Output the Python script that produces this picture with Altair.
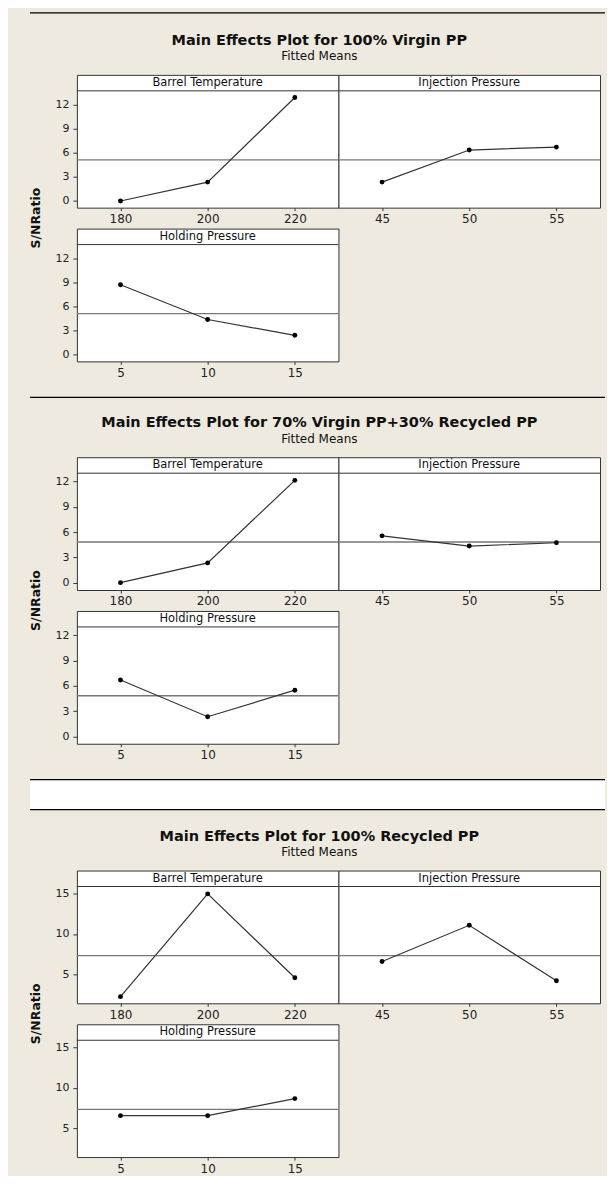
import altair as alt
import pandas as pd

# ---------------- data ----------------
section_titles = [
    "Main Effects Plot for 100% Virgin PP",
    "Main Effects Plot for 70% Virgin PP+30% Recycled PP",
    "Main Effects Plot for 100% Recycled PP",
]
subtitle_text = "Fitted Means"
y_label = "S/NRatio"

factor_names = ["Barrel Temperature", "Injection Pressure", "Holding Pressure"]
barrel_levels = ["180", "200", "220"]
injection_levels = ["45", "50", "55"]
holding_levels = ["5", "10", "15"]

# S/N ratio means per factor level
virgin_barrel = [0.0, 2.36, 12.94]
virgin_injection = [2.36, 6.37, 6.74]
virgin_holding = [8.75, 4.40, 2.43]

blend_barrel = [0.0, 2.35, 12.15]
blend_injection = [5.56, 4.35, 4.74]
blend_holding = [6.70, 2.34, 5.49]

recycled_barrel = [2.26, 14.95, 4.60]
recycled_injection = [6.60, 11.07, 4.23]
recycled_holding = [6.55, 6.55, 8.66]

grand_means = [5.13, 4.83, 7.32]

# axis limits (plot region) and tick values for each section
y_limits = [[-0.83, 13.77], [-0.87, 13.0], [1.44, 15.86]]
y_tick_values = [[0, 3, 6, 9, 12], [0, 3, 6, 9, 12], [5, 10, 15]]

# ---------------- styling ----------------
FONT = "DejaVu Sans"
BEIGE = "#EEEAE0"
PANEL_W = 262
PLOT_H = 117
HEADER_H = 16
ROW_GAP = 21
STACK_H = 2 * (PLOT_H + HEADER_H) + ROW_GAP
FULL_W = 576
GAP_BAND = 30       # white gap between the boxes
GAP_BOTTOM = 2      # beige space below the white gap


def make_panel(name, levels, values, mean, limits, ticks, left_axis):
    lo, hi = limits
    top = hi + HEADER_H * (hi - lo) / PLOT_H
    yscale = alt.Scale(domain=[lo, top], nice=False, zero=False)

    if left_axis:
        yaxis = alt.Axis(
            values=ticks, grid=False, domain=False, tickSize=4, tickColor="#333",
            labelColor="#222", labelFont=FONT, labelFontSize=11, labelPadding=4,
            title=None,
        )
    else:
        yaxis = None
    yenc = alt.Y("sn:Q", scale=yscale, axis=yaxis)

    xenc = alt.X(
        "level:O",
        sort=levels,
        scale=alt.Scale(type="point", padding=0.5, domain=levels),
        axis=alt.Axis(
            labelAngle=0, tickSize=3, tickColor="#333", domain=False, grid=False,
            title=None, labelFont=FONT, labelFontSize=12, labelColor="#222", labelPadding=3,
        ),
    )

    df = pd.DataFrame({"level": levels, "sn": values})

    line = alt.Chart(df).mark_line(color="#333", strokeWidth=1.2).encode(x=xenc, y=yenc)
    pts = alt.Chart(df).mark_circle(size=24, color="black", opacity=1).encode(x=xenc, y=yenc)
    mean_rule = alt.Chart(pd.DataFrame({"sn": [mean]})).mark_rule(
        color="#777", strokeWidth=1.3
    ).encode(y=yenc)
    header_rule = alt.Chart(pd.DataFrame({"sn": [hi]})).mark_rule(
        color="#333", strokeWidth=1
    ).encode(y=yenc)
    header_text = alt.Chart(pd.DataFrame({"sn": [(hi + top) / 2], "name": [name]})).mark_text(
        font=FONT, fontSize=11.5, color="#111", baseline="middle", align="center"
    ).encode(y=yenc, text="name:N")

    return alt.layer(mean_rule, header_rule, header_text, line, pts).properties(
        width=PANEL_W, height=PLOT_H + HEADER_H
    )


def make_section(idx, barrel, injection, holding):
    lim = y_limits[idx]
    tk = y_tick_values[idx]
    m = grand_means[idx]
    bt = make_panel(factor_names[0], barrel_levels, barrel, m, lim, tk, True)
    ip = make_panel(factor_names[1], injection_levels, injection, m, lim, tk, False)
    hp = make_panel(factor_names[2], holding_levels, holding, m, lim, tk, True)
    grid = alt.concat(
        bt, ip, hp,
        columns=2,
        spacing={"row": ROW_GAP, "column": 0},
        bounds="flush",
    )
    ylab = alt.Chart(pd.DataFrame({"t": [y_label]})).mark_text(
        angle=270, font=FONT, fontSize=12.5, fontWeight="bold", color="#111",
        align="center", baseline="middle",
    ).encode(text="t:N").properties(
        width=12, height=STACK_H,
        view=alt.ViewBackground(fill="transparent", stroke="transparent"),
    )
    return alt.hconcat(
        ylab, grid,
        spacing=11,
        title=alt.TitleParams(
            text=section_titles[idx], subtitle=subtitle_text, anchor="middle", dx=4,
            font=FONT, fontSize=14.5, fontWeight="bold", color="#111",
            subtitleFont=FONT, subtitleFontSize=12, subtitleColor="#111",
            subtitlePadding=3, offset=11,
        ),
    )


def border_line(height, at_top):
    # a transparent strip carrying one black box-edge line
    edge = height if at_top else 0
    return alt.Chart(pd.DataFrame({"edge": [edge]})).mark_rule(color="black", strokeWidth=1.2).encode(
        y=alt.Y("edge:Q", axis=None, scale=alt.Scale(domain=[0, height], nice=False, zero=False))
    ).properties(
        width=FULL_W, height=height,
        view=alt.ViewBackground(fill="transparent", stroke="transparent"),
    )


def white_gap():
    total = GAP_BAND + GAP_BOTTOM
    ysc = alt.Scale(domain=[0, total], nice=False, zero=False)
    band = pd.DataFrame({"lo": [GAP_BOTTOM], "hi": [total]})
    edges = pd.DataFrame({"edge": [GAP_BOTTOM, total]})
    rect = alt.Chart(band).mark_rect(color="white").encode(
        y=alt.Y("lo:Q", axis=None, scale=ysc), y2="hi:Q"
    )
    rules = alt.Chart(edges).mark_rule(color="black", strokeWidth=1.2).encode(
        y=alt.Y("edge:Q", axis=None, scale=ysc)
    )
    return alt.layer(rect, rules).properties(
        width=FULL_W, height=total,
        view=alt.ViewBackground(fill="transparent", stroke="transparent"),
    )


sec1 = make_section(0, virgin_barrel, virgin_injection, virgin_holding)
sec2 = make_section(1, blend_barrel, blend_injection, blend_holding)
sec3 = make_section(2, recycled_barrel, recycled_injection, recycled_holding)

chart = alt.vconcat(
    border_line(3, True), sec1, border_line(1, False), sec2, white_gap(), sec3, spacing=16
).properties(
    padding={"left": 20, "top": 2, "right": 0, "bottom": 0},
    background=BEIGE,
).configure_view(fill="white", stroke="#333", strokeWidth=1)

chart.save("out.html", embed_options={"renderer": "svg", "actions": False})
